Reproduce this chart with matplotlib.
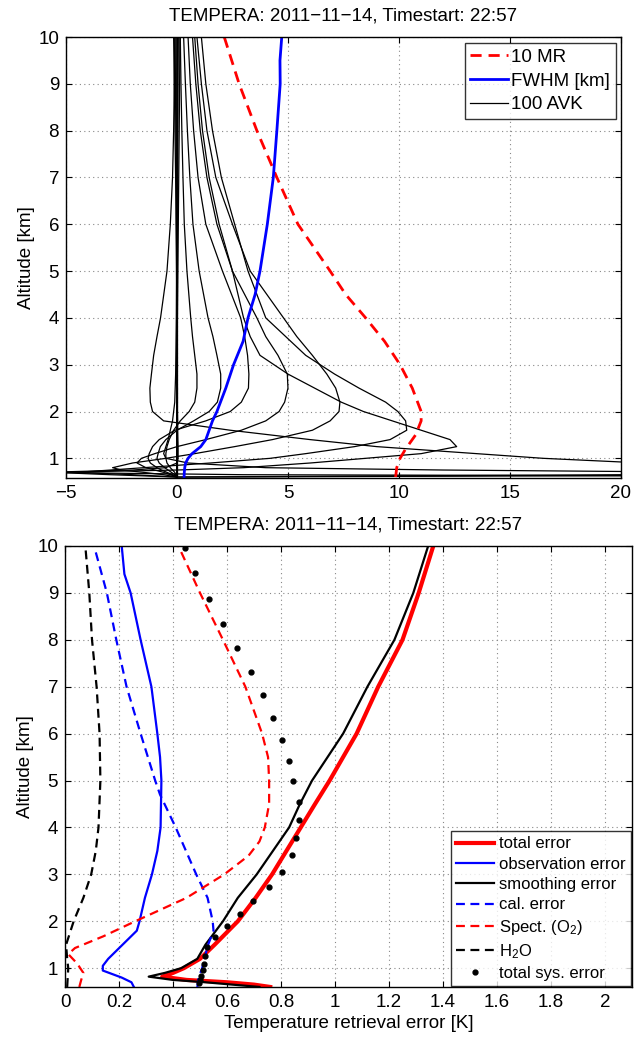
import matplotlib
matplotlib.use("Agg")
import matplotlib.pyplot as plt
import numpy as np

plt.rcParams['font.family'] = ['Liberation Sans', 'DejaVu Sans']
plt.rcParams['mathtext.default'] = 'regular'
plt.rcParams['font.size'] = 13.5

title = "TEMPERA: 2011\u221211\u221214, Timestart: 22:57"

# ---- top panel: averaging kernels, FWHM, measurement response ----
z_avk = [0.6, 0.65, 0.7, 0.75, 0.8, 0.9, 1.0, 1.1, 1.25, 1.4, 1.6, 1.8, 2.0,
         2.2, 2.5, 2.8, 3.2, 3.6, 4.0, 5.0, 6.0, 7.0, 8.0, 9.0, 10.0]

avk_p1 = [0, -0.05, -0.1, -0.2, -0.3, -0.45, -0.5, -0.5, -0.45, -0.35, -0.15, 0.15, 0.55,
          0.8, 0.9, 0.9, 0.8, 0.7, 0.62, 0.45, 0.33, 0.27, 0.22, 0.18, 0.15]
avk_p2 = [0, -0.1, -0.25, -0.4, -0.55, -0.8, -0.9, -0.85, -0.75, -0.5, 0.0, 0.75, 1.45,
          1.82, 1.97, 1.97, 1.8, 1.62, 1.4, 1.0, 0.72, 0.58, 0.47, 0.38, 0.3]
avk_p3 = [0, -0.2, -0.45, -0.7, -0.9, -1.2, -1.3, -1.25, -1.1, -0.8, -0.1, 1.3, 2.4,
          2.9, 3.22, 3.24, 3.18, 3.05, 2.87, 2.05, 1.3, 0.95, 0.75, 0.6, 0.5]
avk_p4 = [0, -0.3, -0.6, -1.0, -1.4, -1.8, -1.6, -1.0, 0.0, 1.3, 2.9, 4.0, 4.6,
          4.85, 5.0, 4.97, 4.55, 4.0, 3.6, 2.5, 1.8, 1.35, 1.05, 0.85, 0.7]
avk_p5 = [0, -0.6, -1.5, -2.5, -2.9, -2.0, -0.5, 0.8, 2.6, 4.3, 6.1, 6.9, 7.3,
          7.34, 7.15, 6.75, 6.1, 5.4, 4.8, 3.3, 2.5, 1.75, 1.35, 1.1, 0.9]
avk_p6 = [0, -2.0, -4.5, -3.0, -1.5, 1.5, 4.2, 5.8, 8.0, 9.6, 10.35, 10.3, 9.95,
          9.4, 8.2, 7.1, 5.8, 4.9, 4.0, 3.2, 2.6, 2.0, 1.6, 1.3, 1.1]
avk_p7 = [0, -3.0, -5.5, 0.0, 3.0, 6.0, 8.5, 11.0, 12.6, 12.3, 11.0, 9.7, 8.4,
          7.4, 6.2, 5.0, 3.74, 3.3, 3.0, 2.5, 1.9, 1.45, 1.15, 0.95, 0.8]
avk_n1 = [0, 20.0, 30.0, 29.0, 28.0, 21.0, 16.5, 13.5, 9.0, 6.0, 2.4, -0.6, -1.1,
          -1.2, -1.22, -1.15, -1.05, -0.9, -0.74, -0.45, -0.3, -0.2, -0.15, -0.12, -0.1]
avk_l2 = [0, 35.0, 25.0, 12.0, 4.0, 0.5, -0.5, -0.6, -0.5, -0.4, -0.3, -0.2, -0.15,
          -0.1, -0.08, -0.06, -0.05, -0.04, -0.03, -0.02, -0.02, -0.01, -0.01, -0.01, 0]
avk_l3 = [45.0, 3.0, -6.0, -2.0, -0.5, 0.0, 0.05, 0.05, 0.05, 0.04, 0.03, 0.03, 0.02,
          0.02, 0.02, 0.01, 0.01, 0.01, 0.01, 0.0, 0.0, 0.0, 0.0, 0.0, 0.0]
avk_z1 = [0, 0, 0, 0, 0, 0, 0, 0, 0, 0, 0, 0, 0, 0, 0, 0, 0, 0, 0, -0.02, -0.04,
          -0.06, -0.09, -0.12, -0.15]
avk_z2 = [0, 0, 0, 0, 0, 0, 0, 0, 0, 0, 0, 0, 0, 0, 0, 0, 0, 0, 0, 0.01, 0.02,
          0.03, 0.04, 0.05, 0.06]
avk_z3 = [0, 0, 0, 0, 0, 0, 0, 0, 0, 0, 0, 0, 0, 0, 0, 0, 0, 0, 0.02, 0.04, 0.06,
          0.08, 0.1, 0.12, 0.13]
avk_z4 = [0, 0, 0, 0, 0, 0, 0, 0, 0, 0, 0, 0, 0, 0, 0, 0, 0, 0, 0, -0.01, -0.02,
          -0.03, -0.05, -0.07, -0.08]
avk_z5 = [0] * 25

z_fwhm = [0.6, 0.7, 0.8, 0.9, 1.0, 1.1, 1.25, 1.4, 1.6, 1.8, 2.0, 2.5, 3.0, 3.5,
          4.0, 4.5, 5.0, 6.0, 7.0, 8.0, 9.0, 9.5, 10.0]
fwhm = [0.32, 0.33, 0.35, 0.39, 0.5, 0.68, 1.07, 1.3, 1.45, 1.6, 1.8, 2.2, 2.55, 2.98,
        3.2, 3.52, 3.74, 4.07, 4.34, 4.5, 4.65, 4.64, 4.72]

z_mr = [0.6, 0.8, 1.0, 1.2, 1.5, 1.8, 2.0, 2.5, 3.0, 3.5, 4.0, 4.5, 5.0, 6.0, 7.0,
        8.0, 9.0, 10.0]
mr10 = [9.85, 9.9, 10.05, 10.3, 10.75, 11.0, 11.0, 10.6, 10.05, 9.35, 8.5, 7.6, 6.9,
        5.45, 4.5, 3.6, 2.8, 2.13]

# ---- bottom panel: error budget ----
z_err = [0.6, 0.65, 0.7, 0.75, 0.82, 0.9, 1.0, 1.2, 1.5, 2.0, 2.5, 3.0, 3.5, 4.0,
         4.5, 5.0, 6.0, 7.0, 8.0, 9.0, 10.0]
total_err = [0.76, 0.7, 0.6, 0.45, 0.36, 0.4, 0.44, 0.5, 0.554, 0.64, 0.706, 0.767,
             0.82, 0.873, 0.926, 0.98, 1.08, 1.16, 1.25, 1.31, 1.364]
smooth_err = [0.72, 0.62, 0.52, 0.4, 0.31, 0.37, 0.43, 0.49, 0.52, 0.585, 0.64, 0.71,
              0.77, 0.83, 0.87, 0.915, 1.03, 1.12, 1.22, 1.29, 1.345]

z_obs = [0.6, 0.7, 0.8, 0.95, 1.05, 1.2, 1.5, 1.8, 2.0, 2.5, 3.0, 3.5, 4.0, 5.0,
         5.5, 6.0, 7.0, 8.0, 9.0, 9.4, 10.0]
obs_err = [0.255, 0.246, 0.21, 0.14, 0.14, 0.16, 0.213, 0.266, 0.276, 0.296, 0.322,
           0.342, 0.354, 0.357, 0.352, 0.342, 0.32, 0.28, 0.243, 0.22, 0.21]

z_cal = [0.6, 0.8, 1.0, 1.2, 1.5, 1.8, 2.0, 2.5, 3.0, 4.0, 4.7, 5.0, 6.0, 7.0, 8.0,
         9.0, 9.95]
cal_err = [0.49, 0.495, 0.508, 0.516, 0.53, 0.55, 0.547, 0.528, 0.486, 0.41, 0.352,
           0.334, 0.28, 0.228, 0.19, 0.155, 0.11]

z_o2 = [0.6, 0.75, 0.9, 1.1, 1.3, 1.43, 1.68, 2.0, 2.5, 3.0, 3.4, 3.7, 4.0, 4.5,
        5.0, 5.5, 6.0, 7.0, 8.0, 9.0, 10.0]
o2_err = [0.053, 0.06, 0.068, 0.045, 0.012, 0.037, 0.142, 0.26, 0.45, 0.59, 0.68,
          0.72, 0.74, 0.756, 0.756, 0.752, 0.73, 0.668, 0.585, 0.5, 0.42]

z_h2o = [0.6, 1.0, 1.2, 1.5, 2.0, 2.5, 3.0, 3.5, 4.0, 5.0, 6.0, 7.0, 8.0, 9.0, 9.95]
h2o_err = [0.008, 0.012, 0.008, 0.004, 0.032, 0.068, 0.097, 0.114, 0.124, 0.131,
           0.128, 0.117, 0.1, 0.09, 0.076]

z_sys = [0.68, 0.75, 0.84, 0.97, 1.09, 1.27, 1.45, 1.66, 1.89, 2.15, 2.44, 2.73,
         3.05, 3.41, 3.77, 4.16, 4.55, 4.98, 5.42, 5.87, 6.34, 6.82, 7.31, 7.82,
         8.33, 8.86, 9.42, 9.96]
sys_err = [0.497, 0.5, 0.504, 0.51, 0.516, 0.519, 0.525, 0.557, 0.601, 0.648, 0.697,
           0.755, 0.805, 0.84, 0.857, 0.867, 0.865, 0.845, 0.83, 0.805, 0.772, 0.735,
           0.69, 0.638, 0.585, 0.533, 0.48, 0.445]

fig = plt.figure(figsize=(6.43, 10.4), dpi=100)

ax1 = fig.add_axes([0.1026, 0.5404, 0.8631, 0.4240])
avks = [avk_z1, avk_z2, avk_z3, avk_z4, avk_z5, avk_p1, avk_p2, avk_p3, avk_p4,
        avk_p5, avk_p6, avk_p7, avk_n1, avk_l2, avk_l3]
for i, a in enumerate(avks):
    ax1.plot(a, z_avk, color='black', lw=0.9, label='100 AVK' if i == 0 else None)
ax1.plot(mr10, z_mr, color='red', ls=(0, (4, 2.5)), lw=2, label='10 MR')
ax1.plot(fwhm, z_fwhm, color='blue', lw=2, label='FWHM [km]')
ax1.set_xlim(-5, 20)
ax1.set_ylim(0.58, 10)
ax1.set_xticks([-5, 0, 5, 10, 15, 20])
ax1.set_yticks(range(1, 11))
ax1.set_ylabel('Altitude [km]', labelpad=2)
ax1.set_title(title, fontsize=13.5, pad=12)
h, l = ax1.get_legend_handles_labels()
order = [l.index('10 MR'), l.index('FWHM [km]'), l.index('100 AVK')]
leg1 = ax1.legend([h[k] for k in order], [l[k] for k in order], loc='upper right',
                  bbox_to_anchor=(0.991, 0.986), borderaxespad=0, fancybox=False,
                  edgecolor='black', fontsize=13.5, handlelength=2.0,
                  labelspacing=0.35, handletextpad=0.2, borderpad=0.3)
leg1.get_frame().set_linewidth(1.0)

ax2 = fig.add_axes([0.1011, 0.0510, 0.8818, 0.4240])
ax2.plot(total_err, z_err, color='red', lw=3, label='total error')
ax2.plot(obs_err, z_obs, color='blue', lw=1.6, label='observation error')
ax2.plot(smooth_err, z_err, color='black', lw=1.6, label='smoothing error')
ax2.plot(cal_err, z_cal, color='blue', ls=(0, (4, 2.5)), lw=1.6, label='cal. error')
ax2.plot(o2_err, z_o2, color='red', ls=(0, (4, 2.5)), lw=1.6, label='Spect. (O$_2$)')
ax2.plot(h2o_err, z_h2o, color='black', ls=(0, (4, 2.5)), lw=1.6, label='H$_2$O')
ax2.plot(sys_err, z_sys, ls='none', marker='o', ms=3.5, color='black',
         label='total sys. error')
ax2.set_xlim(0, 2.1)
ax2.set_ylim(0.6, 10)
ax2.set_xticks(np.arange(0, 2.01, 0.2))
ax2.set_xticklabels(['0', '0.2', '0.4', '0.6', '0.8', '1', '1.2', '1.4', '1.6', '1.8', '2'])
ax2.set_yticks(range(1, 11))
ax2.set_ylabel('Altitude [km]', labelpad=2)
ax2.set_xlabel('Temperature retrieval error [K]', labelpad=3)
ax2.set_title(title, fontsize=13.5, pad=12)
leg2 = ax2.legend(loc='lower right', bbox_to_anchor=(0.998, 0.002), borderaxespad=0,
                  fancybox=False, edgecolor='black', fontsize=12, handlelength=2.3,
                  labelspacing=0.32, handletextpad=0.3, borderpad=0.3)
leg2.get_frame().set_linewidth(1.0)

for ax in (ax1, ax2):
    ax.grid(True, ls=(0, (1, 3)), color='#888888', lw=0.8)
    ax.tick_params(direction='in', top=True, right=True, length=4, width=0.8,
                   labelsize=13.5, pad=5)
    for s in ax.spines.values():
        s.set_linewidth(1.0)

fig.savefig('out.png', dpi=100)
